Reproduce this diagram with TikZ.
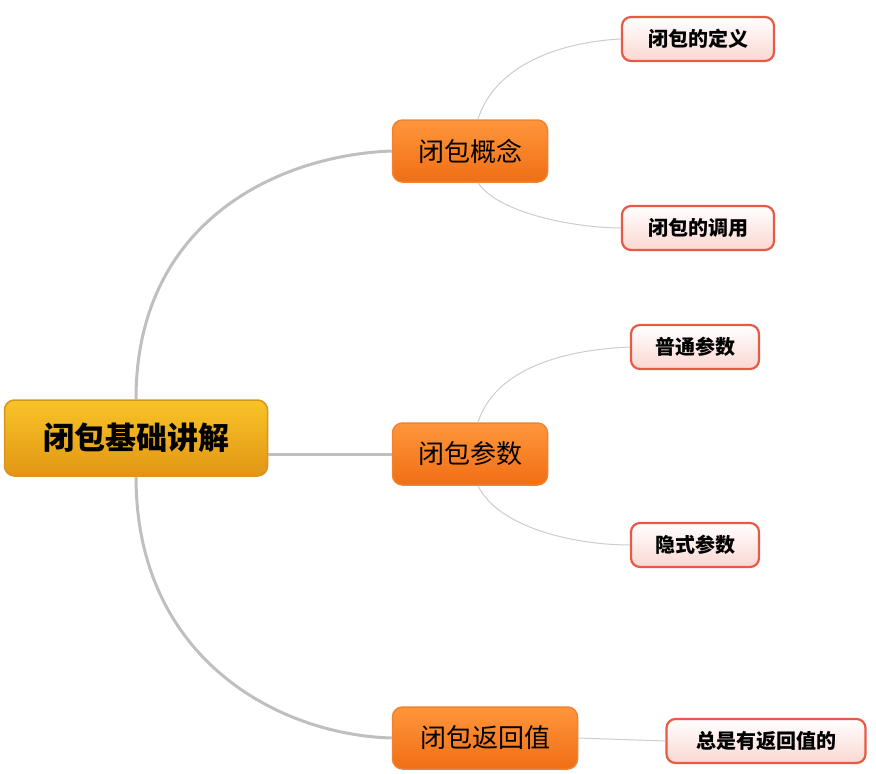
\documentclass[tikz,border=0pt]{standalone}
\usepackage{fontspec}
\newfontfamily\cjk{Noto Sans CJK SC}
\definecolor{rtop}{RGB}{248,196,40}
\definecolor{rbot}{RGB}{226,150,20}
\definecolor{rdraw}{RGB}{214,150,30}
\definecolor{mtop}{RGB}{255,150,60}
\definecolor{mbot}{RGB}{240,110,20}
\definecolor{mdraw}{RGB}{240,130,50}
\definecolor{ldraw}{RGB}{232,90,70}
\definecolor{lbot}{RGB}{250,215,210}
\begin{document}
\begin{tikzpicture}[x=1pt,y=-1pt,
  rootbox/.style={draw=rdraw,line width=1.5pt,rounded corners=10pt,top color=rtop,bottom color=rbot,minimum width=263pt,minimum height=76pt,font=\cjk\bfseries\fontsize{31}{33}\selectfont},
  midbox/.style={draw=mdraw,line width=1.5pt,rounded corners=10pt,top color=mtop,bottom color=mbot,minimum height=62pt,font=\cjk\fontsize{26}{28}\selectfont},
  leafbox/.style={draw=ldraw,line width=2.2pt,rounded corners=9pt,top color=white,bottom color=lbot,minimum height=44pt,font=\cjk\bfseries\fontsize{20}{22}\selectfont},
  thick link/.style={draw=black!25,line width=3pt},
  thin link/.style={draw=black!20,line width=1pt}]
\useasboundingbox (0,0) rectangle (876,774);
\node[rootbox] (r) at (136,438) {闭包基础讲解};
\node[midbox,minimum width=155pt] (a) at (470,151) {闭包概念};
\node[midbox,minimum width=155pt] (b) at (470,454) {闭包参数};
\node[midbox,minimum width=185pt] (c) at (485,738) {闭包返回值};
\node[leafbox,minimum width=152pt] (a1) at (698,39) {闭包的定义};
\node[leafbox,minimum width=152pt] (a2) at (698,228) {闭包的调用};
\node[leafbox,minimum width=128pt] (b1) at (695,347) {普通参数};
\node[leafbox,minimum width=128pt] (b2) at (695,545) {隐式参数};
\node[leafbox,minimum width=199pt] (c1) at (766,741) {总是有返回值的};
\path[thick link] (r.north) .. controls (136,220) and (280,155) .. (a.west);
\path[thick link] (r.east |- b.west) -- (b.west);
\path[thick link] (r.south) .. controls (136,660) and (280,735) .. (c.west);
\path[thin link] ([xshift=8pt]a.north) .. controls (495,65) and (560,42) .. (a1.west);
\path[thin link] ([xshift=8pt]a.south) .. controls (500,215) and (580,228) .. (a2.west);
\path[thin link] ([xshift=8pt]b.north) .. controls (495,370) and (560,350) .. (b1.west);
\path[thin link] ([xshift=8pt]b.south) .. controls (500,530) and (580,545) .. (b2.west);
\path[thin link] (c.east) -- (c1.west);
\end{tikzpicture}
\end{document}
